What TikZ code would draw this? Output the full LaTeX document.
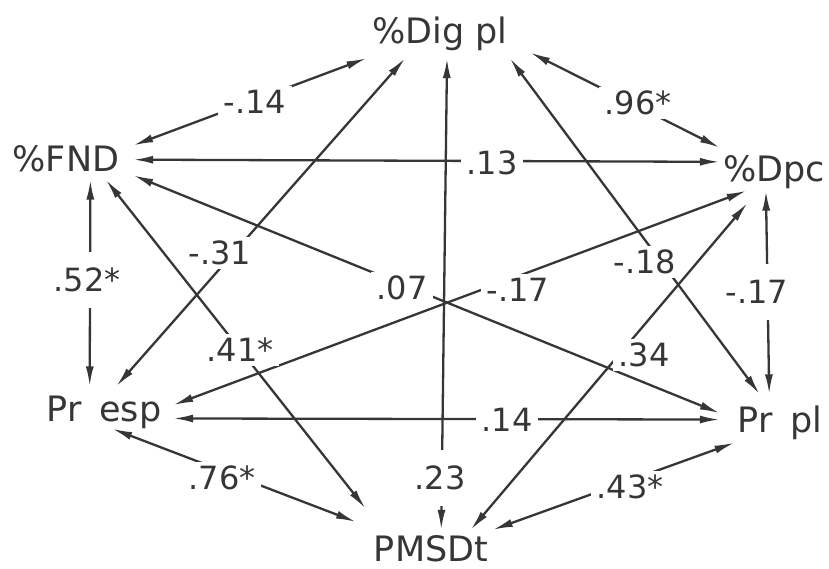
\documentclass[tikz,border=0pt]{standalone}
\usepackage{fontspec}
\setmainfont{DejaVu Sans}
\usetikzlibrary{arrows.meta}
\definecolor{ink}{HTML}{363636}

\begin{document}
\begin{tikzpicture}[x=1pt,y=-1pt,
  var/.style={inner sep=0pt,text height=27pt,text depth=0pt,text=ink,font=\fontsize{35.0}{42.0}\selectfont},
  coef/.style={inner xsep=6pt,inner ysep=4pt,fill=white,text=ink,font=\fontsize{32.0}{38.4}\selectfont},
  vgap/.style={inner ysep=16pt},
  link/.style={draw=ink,line width=2.3pt,{Latex[length=20pt,width=8pt]}-{Latex[length=20pt,width=8pt]}}]
\path[use as bounding box,fill=white] (0,0) rectangle (829,569);
\node[var,minimum width=180,minimum height=56] (dig) at (440,30) {\%Dig pl};
\node[var,minimum width=134,minimum height=42] (fnd) at (66,158.5) {\%FND};
\node[var,minimum width=108,minimum height=44] (dpc) at (774,168.5) {\%Dpc};
\node[var,minimum width=138,minimum height=42] (presp) at (104,407.5) {Pr\hspace{18pt}esp};
\node[var,minimum width=120,minimum height=48] (prpl) at (780,418.5) {Pr\hspace{18pt}pl};
\node[var,minimum width=160,minimum height=35] (pmsdt) at (431,547.5) {PMSDt};
\draw[link] (fnd.11) -- (dig.-159);
\draw[link] (dig.-14) -- (dpc.159);
\draw[link] (fnd.-1) -- (dpc.173);
\draw[link] (fnd.-41) -- (presp.124);
\draw[link] (fnd.-14) -- (prpl.175);
\draw[link,shorten >=27pt] (fnd.-28) -- (pmsdt.160);
\draw[link] (dig.-141) -- (presp.60);
\draw[link] (dig.-76) -- (pmsdt.60);
\draw[link] (dig.-22) -- (prpl.130);
\draw[link] (presp.2) -- (dpc.-141);
\draw[link,shorten <=16pt] (dpc.-126) -- (pmsdt.24);
\draw[link] (dpc.-110) -- (prpl.114);
\draw[link] (presp.-9) -- (prpl.-179);
\draw[link,shorten >=22pt] (presp.-69) -- (pmsdt.162);
\draw[link] (prpl.-152) -- (pmsdt.16);
\node[coef] (c14) at (255,102) {-.14};
\node[coef] (c96) at (638,103) {.96*};
\node[coef] (c13) at (492,163) {.13};
\node[coef,vgap] (c52) at (87,280) {.52*};
\node[coef] (c07) at (402,288) {.07};
\node[coef] (c31) at (220,253) {-.31};
\node[coef] (c17a) at (518,290) {-.17};
\node[coef] (c18) at (645,262) {-.18};
\node[coef,vgap] (c17b) at (757,292) {-.17};
\node[coef] (c41) at (240,350) {.41*};
\node[coef] (c34) at (644,355) {.34};
\node[coef] (c14b) at (507,420) {.14};
\node[coef,vgap] (c23) at (440,478) {.23};
\node[coef] (c76) at (222,478) {.76*};
\node[coef] (c43) at (630,487) {.43*};
\end{tikzpicture}
\end{document}
